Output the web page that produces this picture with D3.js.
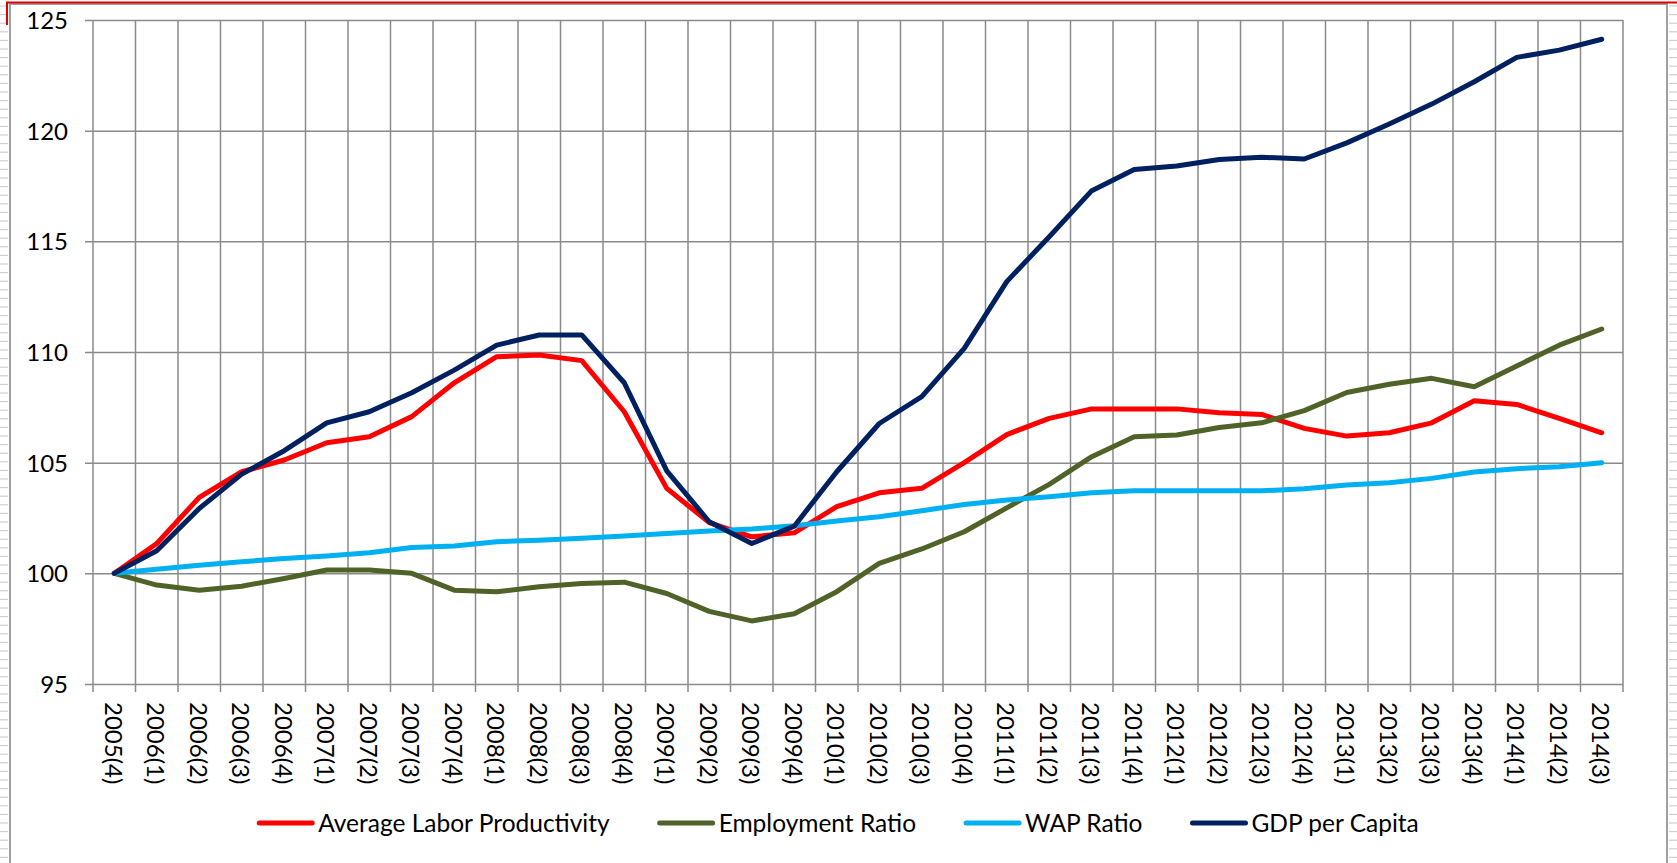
<!DOCTYPE html>
<html>
<head>
<meta charset="utf-8">
<script src="https://cdn.jsdelivr.net/npm/d3@7"></script>
<style>
  body { margin: 0; background: #fff; }
  svg text { font-family: Lato, "Open Sans", sans-serif; fill: #000; }
  .grid line { stroke: #8a8a8a; stroke-width: 1.5; }
</style>
</head>
<body>
<svg id="chart" width="1677" height="863"></svg>
<script>

// quarters on the category axis
var categories = [
  "2005(4)",
  "2006(1)", "2006(2)", "2006(3)", "2006(4)",
  "2007(1)", "2007(2)", "2007(3)", "2007(4)",
  "2008(1)", "2008(2)", "2008(3)", "2008(4)",
  "2009(1)", "2009(2)", "2009(3)", "2009(4)",
  "2010(1)", "2010(2)", "2010(3)", "2010(4)",
  "2011(1)", "2011(2)", "2011(3)", "2011(4)",
  "2012(1)", "2012(2)", "2012(3)", "2012(4)",
  "2013(1)", "2013(2)", "2013(3)", "2013(4)",
  "2014(1)", "2014(2)", "2014(3)"
];

var laborProductivity = [
  100, 101.35, 103.43, 104.59, 105.12, 105.9, 106.17, 107.08, 108.61,
  109.79, 109.86, 109.61, 107.3, 103.84, 102.29, 101.65, 101.83,
  103.01, 103.64, 103.84, 105.0, 106.27, 107.0, 107.43, 107.43,
  107.43, 107.26, 107.18, 106.55, 106.2, 106.35, 106.8, 107.8,
  107.63, 107.0, 106.35
];

var employmentRatio = [
  100, 99.47, 99.24, 99.42, 99.77, 100.15, 100.15, 100.0, 99.24,
  99.17, 99.39, 99.54, 99.6, 99.09, 98.28, 97.85, 98.17,
  99.17, 100.45, 101.1, 101.88, 102.96, 104.02, 105.27, 106.17,
  106.25, 106.59, 106.8, 107.35, 108.17, 108.54, 108.81, 108.43,
  109.37, 110.31, 111.04
];

var wapRatio = [
  100, 100.18, 100.37, 100.52, 100.67, 100.78, 100.93, 101.17, 101.23,
  101.43, 101.5, 101.58, 101.69, 101.8, 101.91, 102.0, 102.15,
  102.36, 102.56, 102.83, 103.11, 103.31, 103.46, 103.64, 103.73,
  103.73, 103.73, 103.73, 103.82, 103.99, 104.09, 104.29, 104.58,
  104.73, 104.82, 105.0
];

var gdpPerCapita = [
  100, 101.02, 102.93, 104.48, 105.54, 106.8, 107.3, 108.16, 109.18,
  110.31, 110.77, 110.77, 108.61, 104.63, 102.33, 101.35, 102.13,
  104.59, 106.77, 107.98, 110.16, 113.18, 115.21, 117.29, 118.25,
  118.4, 118.7, 118.8, 118.72, 119.45, 120.3, 121.2, 122.21,
  123.31, 123.64, 124.13
];

var seriesNames = ["Average Labor Productivity", "Employment Ratio", "WAP Ratio", "GDP per Capita"];
var seriesColors = ["#ff0000", "#4f6228", "#00b0f0", "#002060"];
var yTicks = [95, 100, 105, 110, 115, 120, 125];

var series = [laborProductivity, employmentRatio, wapRatio, gdpPerCapita];

var svg = d3.select("#chart");

// plot box (names avoid window.top)
var plotLeft = 93, plotRight = 1623, plotTop = 20, plotBottom = 684;

var x = d3.scaleBand().domain(categories).range([plotLeft, plotRight]);
var y = d3.scaleLinear().domain([95, 125]).range([plotBottom, plotTop]);
var bw = x.bandwidth();

// spreadsheet edges behind the chart object
var strips = [[0, 8], [1669, 1677]];
strips.forEach(function (s) {
  svg.append("g")
    .selectAll("line")
    .data(d3.range(6, 863, 8.6))
    .enter()
    .append("line")
    .attr("x1", s[0]).attr("x2", s[1])
    .attr("y1", function (d) { return d; })
    .attr("y2", function (d) { return d; })
    .attr("stroke", "#cfcfcf")
    .attr("stroke-width", 1.2);
});

// chart frame
svg.append("rect")
  .attr("x", 10).attr("y", 4)
  .attr("width", 1657).attr("height", 900)
  .attr("fill", "#fff")
  .attr("stroke", "#a0a0a0")
  .attr("stroke-width", 2);

// red selection border of the cell above
svg.append("path")
  .attr("d", "M7,25 V2.5 H1677")
  .attr("fill", "none")
  .attr("stroke", "#e00000")
  .attr("stroke-width", 2);

// horizontal gridlines + y axis
var yAxis = d3.axisLeft(y)
  .tickValues(yTicks)
  .tickSize(8)
  .tickPadding(17);

var yg = svg.append("g")
  .attr("class", "grid")
  .attr("transform", "translate(" + plotLeft + ",0)")
  .call(yAxis);
yg.select(".domain").remove();
yg.selectAll(".tick line").attr("x2", plotRight - plotLeft).attr("x1", -8);
yg.selectAll("text")
  .attr("font-size", 24)
  .attr("dy", "0.35em");

// vertical gridlines on category boundaries
var edges = categories.map(function (c) { return x(c); }).concat([plotRight]);

svg.append("g")
  .attr("class", "grid")
  .selectAll("line")
  .data(edges)
  .enter()
  .append("line")
  .attr("x1", function (d) { return d; })
  .attr("x2", function (d) { return d; })
  .attr("y1", plotTop)
  .attr("y2", plotBottom + 8);

// category labels, rotated
var xAxis = d3.axisBottom(x).tickSize(0).tickPadding(0);
var xg = svg.append("g")
  .attr("transform", "translate(0," + plotBottom + ")")
  .call(xAxis);
xg.select(".domain").remove();
xg.selectAll("text")
  .attr("font-size", 24)
  .attr("text-anchor", "start")
  .attr("dy", null)
  .attr("y", 0)
  .attr("dominant-baseline", "central")
  .attr("transform", "translate(0,18) rotate(90)");

// series lines, first series drawn first so GDP ends up on top
var line = d3.line()
  .x(function (d, i) { return x(categories[i]) + bw / 2; })
  .y(function (d) { return y(d); });

svg.append("g")
  .selectAll("path")
  .data(series)
  .enter()
  .append("path")
  .attr("d", line)
  .attr("fill", "none")
  .attr("stroke", function (_, i) { return seriesColors[i]; })
  .attr("stroke-width", 5)
  .attr("stroke-linejoin", "round")
  .attr("stroke-linecap", "round");

// legend, laid out as a centred row
var legendY = 823, swatch = 53, gapText = 6, gapItem = 50;
var legend = svg.append("g");
var items = legend.selectAll("g")
  .data(seriesNames)
  .enter()
  .append("g");

items.append("line")
  .attr("x1", 0).attr("x2", swatch)
  .attr("y1", legendY).attr("y2", legendY)
  .attr("stroke", function (_, i) { return seriesColors[i]; })
  .attr("stroke-width", 5)
  .attr("stroke-linecap", "round");

items.append("text")
  .attr("x", swatch + gapText)
  .attr("y", legendY)
  .attr("dy", "0.35em")
  .attr("font-size", 24.5)
  .text(function (d) { return d; });

var offset = 0;
var widths = [];
items.each(function () {
  widths.push(this.querySelector("text").getComputedTextLength());
});
var total = d3.sum(widths) + widths.length * (swatch + gapText) + (widths.length - 1) * gapItem;
offset = 839 - total / 2;
items.attr("transform", function (_, i) {
  var tx = offset;
  offset += swatch + gapText + widths[i] + gapItem;
  return "translate(" + tx + ",0)";
});

</script>
</body>
</html>
